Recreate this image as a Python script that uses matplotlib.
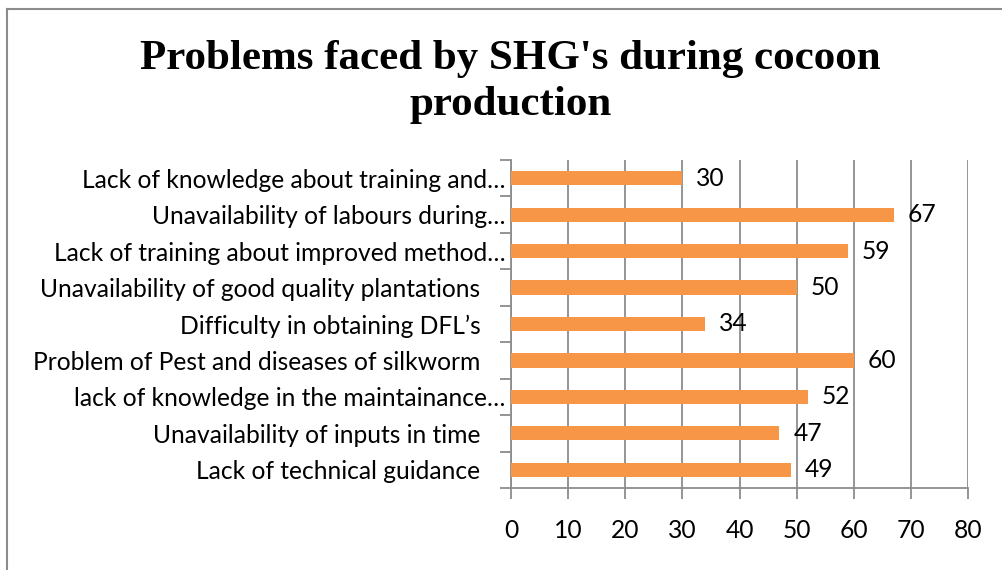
import matplotlib.pyplot as plt
from matplotlib.lines import Line2D

problems = [
    "Lack of knowledge about training and\u2026",
    "Unavailability of labours during\u2026",
    "Lack of training about improved method\u2026",
    "Unavailability of good quality plantations    ",
    "Difficulty in obtaining DFL\u2019s    ",
    "Problem of Pest and diseases of silkworm    ",
    "lack of knowledge in the maintainance\u2026",
    "Unavailability of inputs in time    ",
    "Lack of technical guidance    ",
]
counts = [30, 67, 59, 50, 34, 60, 52, 47, 49]
xticks = [0, 10, 20, 30, 40, 50, 60, 70, 80]

plt.rcParams["font.family"] = ["Lato", "DejaVu Sans"]
grey = "#8c8c8c"
bar_color = "#F79646"
fs = 17.7

fig = plt.figure(figsize=(10.03, 5.70), dpi=100)
ax = fig.add_axes([0.5095, 0.1439, 0.4556, 0.5754])

pos = list(range(len(problems)))
bars = ax.barh(pos, counts, height=0.39, color=bar_color, zorder=3)
ax.bar_label(bars, labels=[str(c) for c in counts], padding=10, fontsize=fs, color="black")

ax.set_xlim(0, 80)
ax.set_ylim(len(problems) - 0.5, -0.5)
ax.set_xticks(xticks)
ax.set_xticklabels([str(t) for t in xticks], fontsize=fs)
ax.xaxis.grid(True, color=grey, linewidth=1.3, zorder=0)
ax.tick_params(axis="x", length=8, width=1.3, color=grey, pad=14)

# category boundaries get the tick marks, centres get the labels
ax.set_yticks([p - 0.5 for p in pos] + [len(pos) - 0.5])
ax.set_yticklabels([])
ax.set_yticks(pos, minor=True)
ax.set_yticklabels(problems, minor=True, fontsize=fs)
ax.tick_params(axis="y", which="major", length=8, width=1.3, color=grey)
ax.tick_params(axis="y", which="minor", length=0, pad=4)

for s in ["top", "right"]:
    ax.spines[s].set_visible(False)
for s in ["left", "bottom"]:
    ax.spines[s].set_color(grey)
    ax.spines[s].set_linewidth(1.3)

fig.text(0.509, 0.856, "Problems faced by SHG's during cocoon\nproduction",
         ha="center", va="center", fontsize=31, fontweight="bold",
         family="Liberation Serif", linespacing=1.27)

# outer chart frame (clipped at right and bottom)
fig.add_artist(Line2D([7.5 / 1003, 7.5 / 1003], [0, 1 - 8.5 / 570], color=grey, linewidth=1.5))
fig.add_artist(Line2D([7.5 / 1003, 1], [1 - 8.5 / 570, 1 - 8.5 / 570], color=grey, linewidth=1.5))

fig.savefig("out.png", dpi=100)
